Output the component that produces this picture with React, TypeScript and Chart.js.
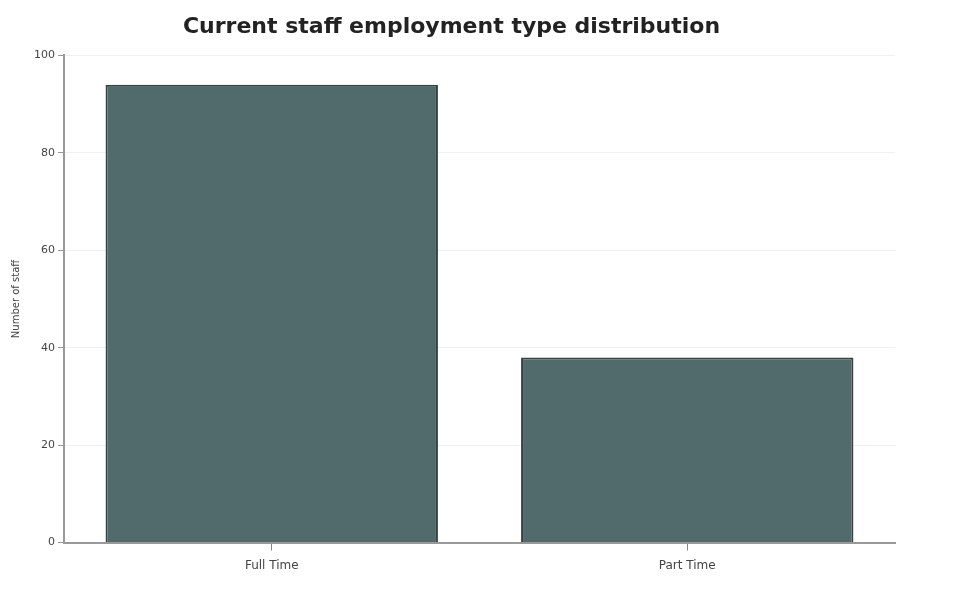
import React, { useEffect, useRef } from "react";
import { Chart, registerables } from "chart.js";

Chart.register(...registerables);

const categories = ["Full Time", "Part Time"];
const staffCounts = [94, 38];
const yTicks = [0, 20, 40, 60, 80, 100];

const FONT = "DejaVu Sans";

export default function App() {
  const ref = useRef<HTMLCanvasElement | null>(null);
  useEffect(() => {
    if (!ref.current) return;
    const chart = new Chart(ref.current, {
      type: "bar",
      data: {
        labels: categories,
        datasets: [
          {
            label: "Staff",
            data: staffCounts,
            backgroundColor: "#516a6c",
            borderColor: "#35443f",
            borderWidth: 2,
            barPercentage: 0.8,
            categoryPercentage: 1,
          },
        ],
      },
      options: {
        animation: false,
        responsive: true,
        maintainAspectRatio: false,
        layout: { padding: { left: 0, right: 62, top: 0, bottom: 0 } },
        plugins: {
          legend: { display: false },
          tooltip: { enabled: false },
          title: {
            display: true,
            text: "Current staff employment type distribution",
            color: "#222",
            font: { family: FONT, size: 22, weight: "bold" },
            padding: { top: 6, bottom: 15 },
          },
        },
        scales: {
          x: {
            grid: { display: true, drawOnChartArea: false, drawTicks: true, tickLength: 8, offset: false, color: "#888" },
            border: { color: "#999", width: 2 },
            ticks: { color: "#444", padding: 8, font: { family: FONT, size: 12 } },
          },
          y: {
            min: 0,
            max: 100,
            afterBuildTicks: (axis: any) => {
              axis.ticks = yTicks.map((v) => ({ value: v }));
            },
            afterFit: (axis: any) => {
              axis.width = 56;
            },
            grid: { color: "#f0f0f3", tickColor: "#999", tickLength: 6 },
            border: { color: "#999", width: 2 },
            ticks: { color: "#444", font: { family: FONT, size: 11 } },
            title: {
              display: true,
              text: "Number of staff",
              color: "#444",
              padding: 2,
              font: { family: FONT, size: 10 },
            },
          },
        },
      },
    });
    return () => chart.destroy();
  }, []);
  return (
    <div style={{ position: "relative", width: 949, height: 573 }}>
      <canvas ref={ref} />
    </div>
  );
}
